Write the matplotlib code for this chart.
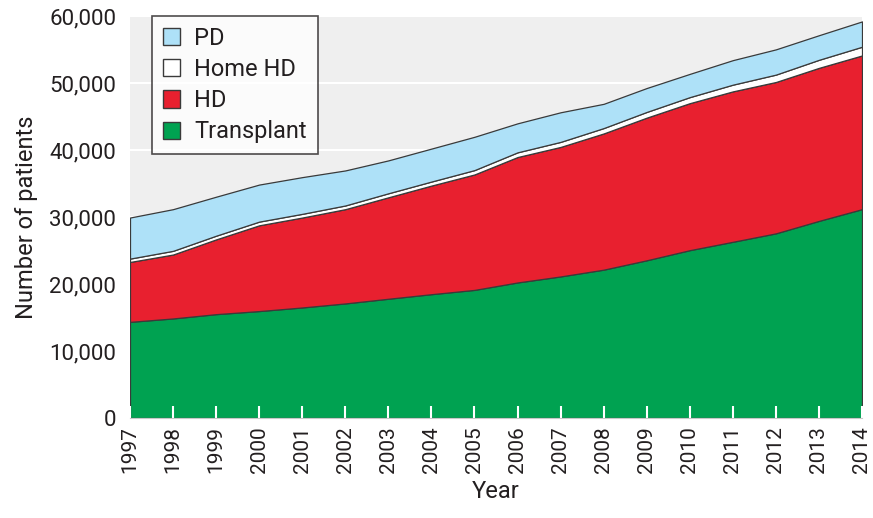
import matplotlib
matplotlib.use("Agg")
import matplotlib.pyplot as plt
from matplotlib.patches import Patch
from matplotlib.ticker import FuncFormatter

years = list(range(1997, 2015))
transplant = [14350, 14860, 15500, 15960, 16500, 17100, 17800, 18480, 19120,
              20230, 21130, 22140, 23540, 25050, 26300, 27560, 29420, 31170]
hd = [8940, 9540, 11160, 12800, 13420, 14070, 15140, 16210, 17230,
      18720, 19330, 20330, 21290, 21940, 22450, 22590, 22840, 22940]
home_hd = [500, 550, 550, 550, 550, 550, 600, 600, 650,
           700, 750, 800, 850, 900, 1000, 1100, 1200, 1300]
pd_ = [6130, 6220, 5820, 5530, 5480, 5230, 4910, 4920, 4970,
       4330, 4420, 3620, 3570, 3470, 3660, 3770, 3670, 3780]

labels = ["Transplant", "HD", "Home HD", "PD"]
colors = ["#00a251", "#e8202f", "#ffffff", "#aee1f8"]

plt.rcParams['font.family'] = ['Roboto', 'DejaVu Sans']

fig = plt.figure(figsize=(8.73, 5.18), dpi=100)
ax = fig.add_axes([130/873, (518-418)/518, (862-130)/873, (418-16)/518])
ax.set_facecolor("#efefef")

ax.stackplot(years, transplant, hd, home_hd, pd_, colors=colors,
             edgecolor="#3a3a3a", linewidth=0.9, zorder=2)

ax.set_xlim(1997, 2014)
ax.set_ylim(0, 60000)
ax.set_yticks(range(0, 60001, 10000))
ax.yaxis.set_major_formatter(FuncFormatter(lambda v, p: f"{int(v):,}"))
ax.set_xticks(years)
ax.set_xticklabels([str(y) for y in years], rotation=90)
ax.grid(axis="y", color="white", linewidth=1.5)
ax.set_axisbelow(True)
ax.xaxis.set_zorder(5)
for s in ["top", "right", "left"]:
    ax.spines[s].set_visible(False)
ax.spines["bottom"].set_color("#c8c8c8")
ax.spines["bottom"].set_zorder(6)
ax.tick_params(axis="x", direction="in", length=9, width=1.5, color="white",
               labelsize=15, pad=6, labelcolor="#231f20")
ax.tick_params(axis="y", length=0, labelsize=16, pad=10, labelcolor="#231f20")

ax.set_xlabel("Year", fontsize=17, color="#231f20", labelpad=5)
ax.set_ylabel("Number of patients", fontsize=17, color="#231f20", labelpad=8)

handles = [Patch(facecolor=colors[i], edgecolor="#3a3a3a", linewidth=1.0)
           for i in [3, 2, 1, 0]]
leg = ax.legend(handles, ["PD", "Home HD", "HD", "Transplant"],
                loc="upper left", bbox_to_anchor=(0.03, 1.0), borderaxespad=0,
                fontsize=17, frameon=True, fancybox=False, handlelength=0.75,
                handleheight=0.75, handletextpad=0.6, labelspacing=0.35,
                borderpad=0.45)
leg.get_frame().set_edgecolor("#231f20")
leg.get_frame().set_linewidth(1.2)
leg.set_zorder(10)
for t in leg.get_texts():
    t.set_color("#231f20")

fig.savefig("out.png", dpi=100)
